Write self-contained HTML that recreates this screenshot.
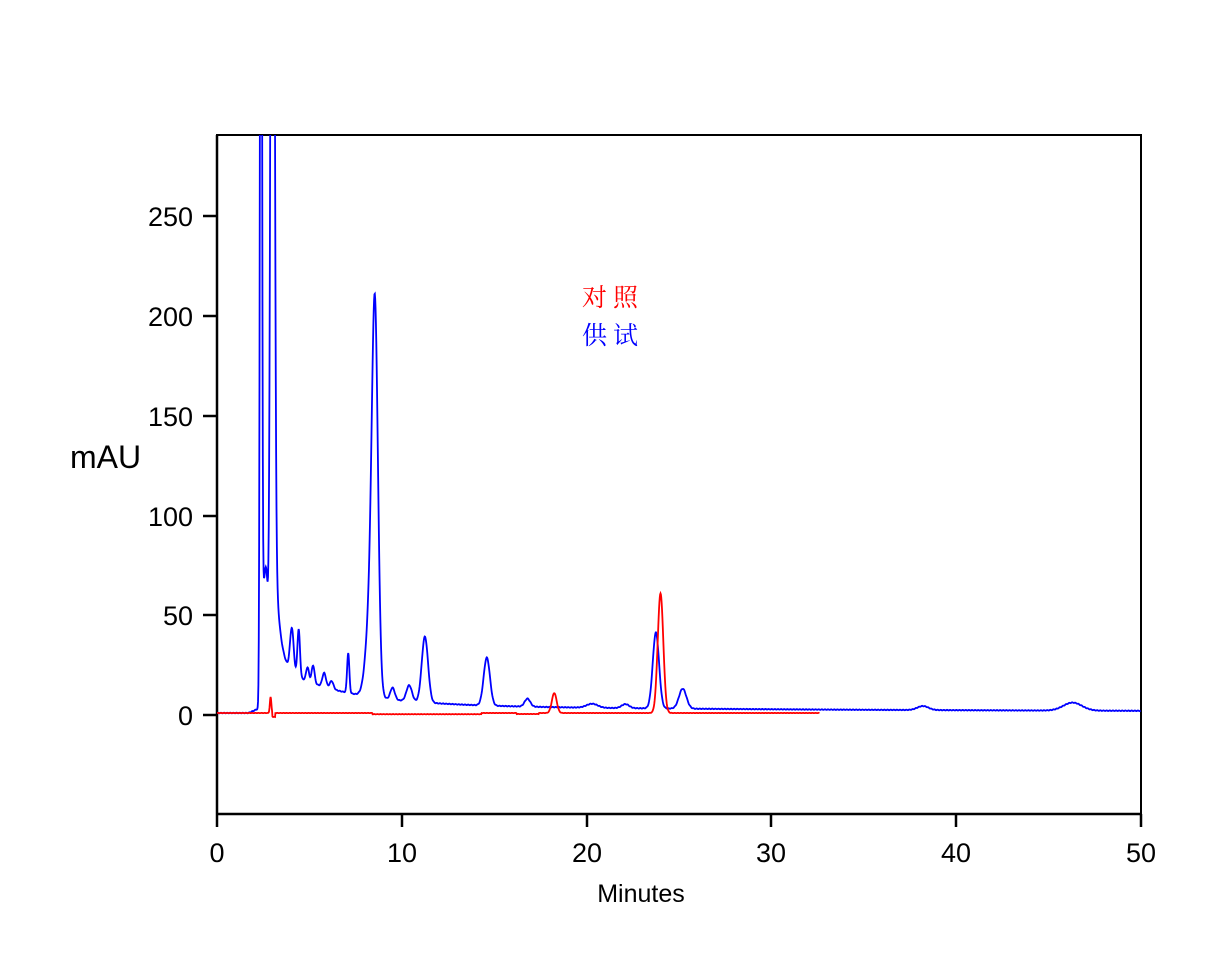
<!DOCTYPE html>
<html><head><meta charset="utf-8"><style>
html,body{margin:0;padding:0;background:#fff;}
svg{display:block;}
text{font-family:"Liberation Sans",Arial,sans-serif;fill:#000;}
.cjk{font-family:"Liberation Serif","Noto Serif CJK SC",serif;}
</style></head><body>
<svg id="s" width="1230" height="980" viewBox="0 0 1230 980" xmlns="http://www.w3.org/2000/svg">
<defs><clipPath id="c"><rect x="217" y="135" width="924" height="679"/></clipPath></defs>
<rect x="217" y="135" width="924" height="679" fill="none" stroke="#000" stroke-width="2"/>
<g stroke="#000" stroke-width="2.5">
<line x1="203" y1="216" x2="217" y2="216"/><line x1="203" y1="316" x2="217" y2="316"/>
<line x1="203" y1="416" x2="217" y2="416"/><line x1="203" y1="516" x2="217" y2="516"/>
<line x1="203" y1="615" x2="217" y2="615"/><line x1="203" y1="715" x2="217" y2="715"/>
<line x1="217" y1="814" x2="217" y2="827"/><line x1="402" y1="814" x2="402" y2="827"/>
<line x1="587" y1="814" x2="587" y2="827"/><line x1="771" y1="814" x2="771" y2="827"/>
<line x1="956" y1="814" x2="956" y2="827"/><line x1="1141" y1="814" x2="1141" y2="827"/>
<line x1="217" y1="135" x2="217" y2="814"/><line x1="217" y1="814" x2="1141" y2="814"/>
</g>
<g font-size="27" text-anchor="end">
<text x="193" y="226">250</text><text x="193" y="326">200</text><text x="193" y="426">150</text>
<text x="193" y="526">100</text><text x="193" y="625">50</text><text x="193" y="725">0</text>
</g>
<g font-size="27" text-anchor="middle">
<text x="217" y="862">0</text><text x="402" y="862">10</text><text x="587" y="862">20</text>
<text x="771" y="862">30</text><text x="956" y="862">40</text><text x="1141" y="862">50</text>
</g>
<text x="70" y="468" font-size="32">mAU</text>
<text x="641" y="902" font-size="25" text-anchor="middle">Minutes</text>
<text x="582" y="306" font-size="25" class="cjk" style="fill:#ff0000;letter-spacing:6px">对照</text>
<text x="582" y="344" font-size="25" class="cjk" style="fill:#0000ff;letter-spacing:6px">供试</text>
<g clip-path="url(#c)" fill="none" stroke-width="1.8">
<polyline id="blue" stroke="#0000ff"/>
<polyline id="red" stroke="#ff0000"/>
</g>
</svg>
<script>
function X(t){return 217+t*18.48;}
function Y(v){return 715-v*1.996;}
function g(t,c,h,s){var d=(t-c)/s;return h*Math.exp(-0.5*d*d);}
function tail(t,c,h,tau){return t<c?0:h*Math.exp(-(t-c)/tau);}
var B=[[2.38,600,0.05],[2.5,20,0.06],[2.65,70,0.12],[3.0,700,0.09],[4.05,22,0.1],[4.42,24,0.07],[4.9,7,0.08],[5.2,9,0.08],[5.8,7,0.1],[6.2,4,0.1],[7.1,20,0.06],
[8.55,165,0.16],[8.35,50,0.25],[9.5,6,0.12],[10.4,8,0.15],[11.25,33,0.17],[14.6,24,0.17],[16.8,4,0.15],[20.3,2,0.3],[22.1,2,0.2],[23.75,38,0.17],[25.2,10,0.2],[38.2,2,0.3],[46.3,4,0.5]];
function blue(t){
 var base;
 if(t<1.7) base=1; else if(t<2.2) base=1+(t-1.7)*4; else base=3;
 if(t>3){base=1.5+4*Math.exp(-(t-3)/25)+20*Math.exp(-(t-3)/3.5);}
 var v=base;
 for(var i=0;i<B.length;i++)v+=g(t,B[i][0],B[i][1],B[i][2]);
 v+=tail(t,3.1,70,0.25);
 return v;
}
var R=[[2.9,8,0.04],[18.25,10,0.13],[24.0,60,0.15]];
function red(t){
 var v=1;
 if(t>8.4&&t<14.3)v=0.4;
 if(t>16.2&&t<17.4)v=0.5;
 for(var i=0;i<R.length;i++)v+=g(t,R[i][0],R[i][1],R[i][2]);
 if(t>3&&t<3.15)v-=2;
 return v;
}
var pb=[],pr=[];
for(var t=0;t<=50;t+=0.02){
 var n=Math.sin(t*37.1)*0.15;
 pb.push(X(t).toFixed(2)+","+Y(blue(t)+n).toFixed(2));
 if(t<=32.6)pr.push(X(t).toFixed(2)+","+Y(red(t)+n*0.5).toFixed(2));
}
document.getElementById("blue").setAttribute("points",pb.join(" "));
document.getElementById("red").setAttribute("points",pr.join(" "));
</script>
</body></html>
